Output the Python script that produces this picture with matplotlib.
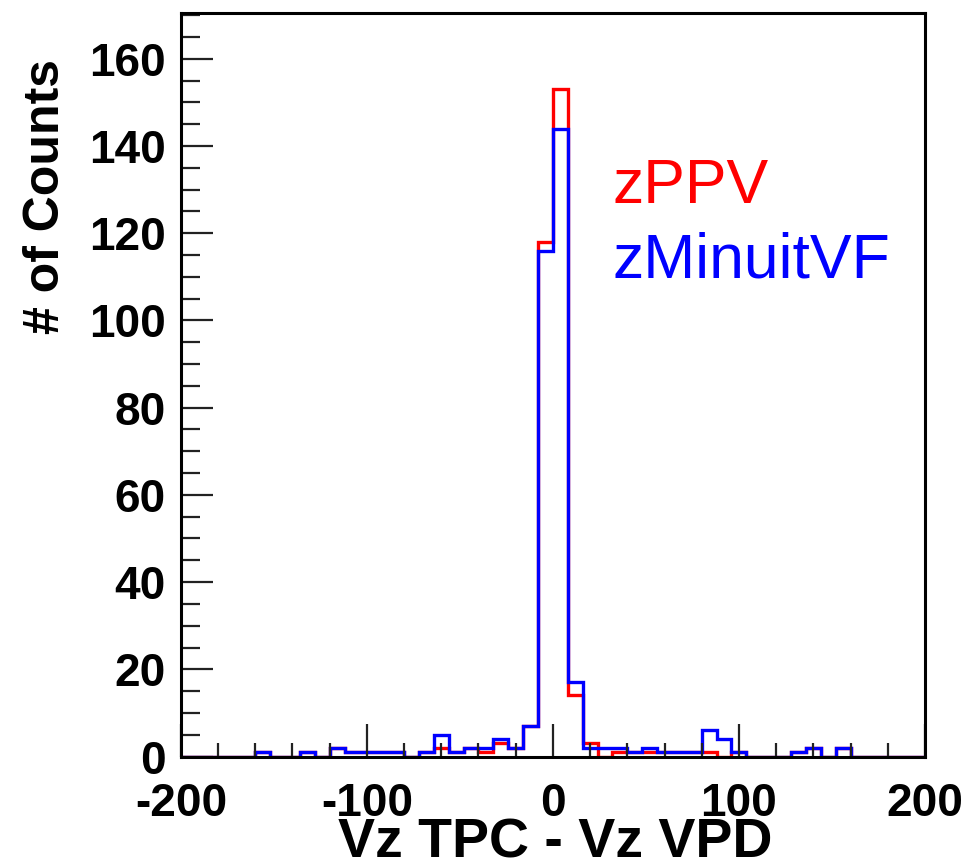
import numpy as np
import matplotlib.pyplot as plt
from matplotlib.ticker import MultipleLocator

# histogram range, 50 bins of 8
x_lo = -200
x_hi = 200
n_bins = 50

# counts per bin
ppv = [0, 0, 0, 0, 0, 1, 0, 0, 1, 0,
       2, 1, 1, 1, 1, 0, 1, 2, 1, 2,
       1, 3, 2, 7, 118, 153, 14, 3, 0, 1,
       1, 1, 1, 1, 1, 1, 0, 1, 0, 0,
       0, 1, 2, 0, 2, 0, 0, 0, 0, 0]
minuit = [0, 0, 0, 0, 0, 1, 0, 0, 1, 0,
          2, 1, 1, 1, 1, 0, 1, 5, 1, 2,
          2, 4, 2, 7, 116, 144, 17, 2, 2, 2,
          1, 2, 1, 1, 1, 6, 4, 1, 0, 0,
          0, 1, 2, 0, 2, 0, 0, 0, 0, 0]

xticks = [-200, -100, 0, 100, 200]
xlabels = ['-200', '-100', '0', '100', '200']
yticks = [0, 20, 40, 60, 80, 100, 120, 140, 160]
ylabels = ['0', '20', '40', '60', '80', '100', '120', '140', '160']

edges = np.linspace(x_lo, x_hi, n_bins + 1)

fig = plt.figure(figsize=(9.62, 8.64), dpi=100)
ax = fig.add_axes([0.188, 0.1244, 0.7735, 0.861])

ax.stairs(ppv, edges, color='#ff0000', lw=2.4)
ax.stairs(minuit, edges, color='#0000ff', lw=2.4)

ax.set_xlim(x_lo, x_hi)
ax.set_ylim(0, 170.6)

for s in ax.spines.values():
    s.set_linewidth(2.2)
    s.set_zorder(5)

ax.xaxis.set_minor_locator(MultipleLocator(20))
ax.yaxis.set_minor_locator(MultipleLocator(5))
ax.set_xticks(xticks, labels=xlabels, fontsize=33, fontweight='bold',
              family='Liberation Sans')
ax.set_yticks(yticks, labels=ylabels, fontsize=33, fontweight='bold',
              family='Liberation Sans')

ax.tick_params(which='both', direction='in', top=False, right=False, width=1.6, color='#222222')
ax.tick_params(axis='x', which='major', length=24, pad=18)
ax.tick_params(axis='x', which='minor', length=10)
ax.tick_params(axis='y', which='major', length=23, pad=11)
ax.tick_params(axis='y', which='minor', length=14)

fig.text(555 / 962, 1 - 857 / 864, 'Vz TPC - Vz VPD', fontsize=40, fontweight='bold',
         family='Liberation Sans', ha='center', va='baseline')
fig.text(46 / 962, 1 - 197 / 864, '# of Counts', fontsize=36, fontweight='bold',
         family='Liberation Sans', rotation=90, ha='center', va='center')

# legend as plain coloured text
fig.text(613 / 962, 1 - 203 / 864, 'zPPV', color='#ff0000', fontsize=45,
         family='Liberation Sans', ha='left', va='baseline')
fig.text(613 / 962, 1 - 278 / 864, 'zMinuitVF', color='#0000ff', fontsize=45,
         family='Liberation Sans', ha='left', va='baseline')

fig.savefig('out.png', dpi=100)
